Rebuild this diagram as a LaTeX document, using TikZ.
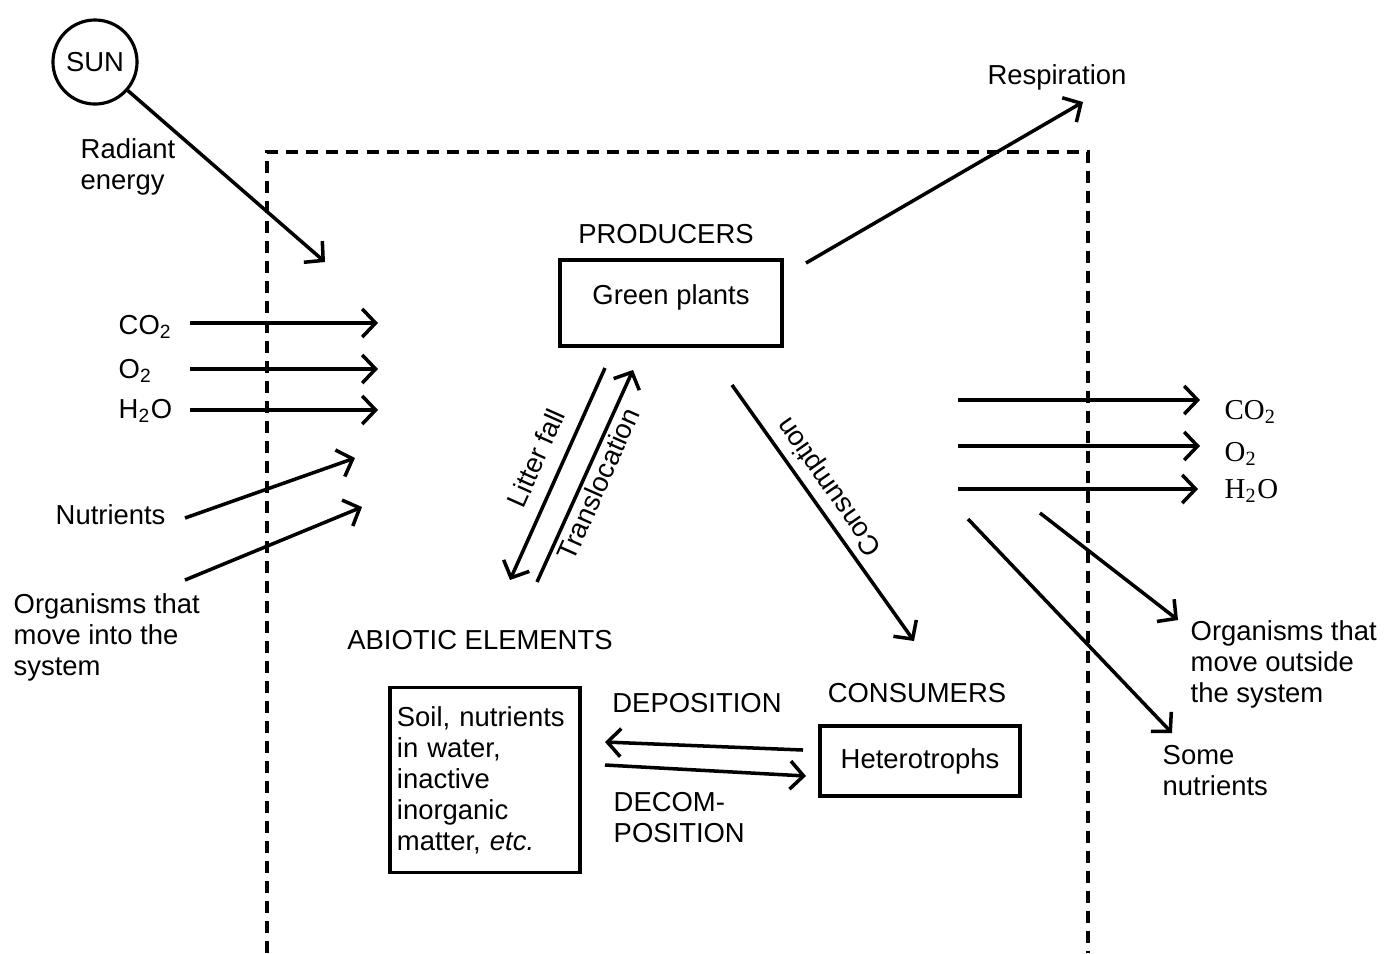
\documentclass[tikz,border=0pt]{standalone}
\usepackage{fontspec}
\setmainfont{Liberation Sans}
\newfontfamily\chemfont{Liberation Serif}
\usetikzlibrary{arrows.meta}
\definecolor{ecoLine}{HTML}{000000}
\tikzset{
  ecofig/.style={
    x=0.01cm, y=-0.01cm,
    every node/.append style={font=\fontsize{7.8}{8.8}\selectfont},
    >={Straight Barb[length=3.8pt,width=8pt]},
  },
  flow/.style={draw=ecoLine, line width=1pt, ->},
  boundary/.style={draw=ecoLine, line width=1pt, dash pattern=on 0.12cm off 0.08cm},
  partbox/.style={draw=ecoLine, line width=1pt, inner sep=2pt},
  caption/.style={inner sep=0pt},
  leftcap/.style={caption, align=left, anchor=west},
  chemcap/.style={caption, anchor=west, font=\chemfont\fontsize{8.2}{9}\selectfont},
}

\begin{document}
\begin{tikzpicture}[ecofig]
  \useasboundingbox (0,0) rectangle (1384,953);
  % system boundary, open at the bottom
  \coordinate (bl) at (267,953);
  \coordinate (tl) at (267,152);
  \coordinate (tr) at (1088,152);
  \coordinate (br) at (1088,953);
  \draw[boundary] (bl) -- (tl) -- (tr) -- (br);

  % sun and inputs
  \node[circle, draw=ecoLine, line width=0.9pt, minimum size=0.84cm, inner sep=0pt] (sun) at (95,62) {SUN};
  \node[leftcap] (radiant) at (80,167) {Radiant\\energy};
  \coordinate (sunin) at (325,262);
  \draw[flow] (sun) -- (sunin);

  \node[caption, anchor=west] (co2in) at (118,327) {CO\textsubscript{2}};
  \node[caption, anchor=west] (o2in) at (118,371) {O\textsubscript{2}};
  \node[caption, anchor=west] (h2oin) at (118,411) {H\textsubscript{2}O};
  \coordinate (co2a) at (190,323);  \coordinate (co2b) at (378,323);
  \coordinate (o2a) at (190,369);   \coordinate (o2b) at (378,369);
  \coordinate (h2oa) at (190,410);  \coordinate (h2ob) at (378,410);
  \draw[flow] (co2a) -- (co2b);
  \draw[flow] (o2a) -- (o2b);
  \draw[flow] (h2oa) -- (h2ob);

  \node[leftcap] (nutin) at (55,515) {Nutrients};
  \coordinate (nuta) at (185,518);  \coordinate (nutb) at (355,458);
  \draw[flow] (nuta) -- (nutb);
  \node[leftcap] (orgin) at (13,637) {Organisms that\\move into the\\system};
  \coordinate (orga) at (185,580);  \coordinate (orgb) at (362,507);
  \draw[flow] (orga) -- (orgb);

  % producers
  \node[caption] (prodlab) at (666,234) {PRODUCERS};
  \node[partbox, minimum width=2.22cm, minimum height=0.86cm, text depth=0.16cm] (plants) at (671,303) {Green plants};
  \node[caption] (resplab) at (1057,77) {Respiration};
  \coordinate (respa) at (806,263);  \coordinate (respb) at (1083,102);
  \draw[flow] (respa) -- (respb);

  % producers <-> abiotic, producers -> consumers
  \coordinate (lfa) at (605,368);  \coordinate (lfb) at (510,580);
  \draw[flow] (lfa) -- (lfb);
  \node[caption, rotate=66] (lflab) at (536,458) {Litter fall};
  \coordinate (tra) at (537,582);  \coordinate (trb) at (633,370);
  \draw[flow] (tra) -- (trb);
  \node[caption, rotate=66] (trlab) at (598,484) {Translocation};
  \coordinate (cna) at (732,385);  \coordinate (cnb) at (914,641);
  \draw[flow] (cna) -- (cnb);
  \node[caption, rotate=125] (cnlab) at (830,486) {Consumption};

  % abiotic elements and consumers
  \node[caption] (abiolab) at (480,640) {ABIOTIC ELEMENTS};
  \node[partbox, minimum width=1.9cm, minimum height=1.85cm, text width=1.76cm, align=left] (soil) at (485,780)
    {Soil, nutrients\\in water,\\inactive\\inorganic\\matter, \textit{etc.}};
  \node[caption] (conslab) at (917,693) {CONSUMERS};
  \node[partbox, minimum width=2.0cm, minimum height=0.70cm] (hetero) at (920,761) {Heterotrophs};
  \node[caption] (deplab) at (697,703) {DEPOSITION};
  \node[leftcap] (declab) at (613,818) {DECOM-\\POSITION};
  \coordinate (depa) at (803,750);  \coordinate (depb) at (605,742);
  \draw[flow] (depa) -- (depb);
  \coordinate (deca) at (605,765);  \coordinate (decb) at (806,776);
  \draw[flow] (deca) -- (decb);

  % outputs
  \coordinate (co2c) at (958,400);  \coordinate (co2d) at (1200,400);
  \coordinate (o2c) at (958,446);   \coordinate (o2d) at (1200,446);
  \coordinate (h2oc) at (958,489);  \coordinate (h2od) at (1198,489);
  \draw[flow] (co2c) -- (co2d);
  \draw[flow] (o2c) -- (o2d);
  \draw[flow] (h2oc) -- (h2od);
  \node[chemcap] (co2out) at (1224,412) {CO\textsubscript{2}};
  \node[chemcap] (o2out) at (1224,454) {O\textsubscript{2}};
  \node[chemcap] (h2oout) at (1224,491) {H\textsubscript{2}O};

  \coordinate (orgc) at (1040,513);  \coordinate (orgd) at (1178,620);
  \draw[flow] (orgc) -- (orgd);
  \node[leftcap] (orgout) at (1190,664) {Organisms that\\move outside\\the system};
  \coordinate (nutc) at (968,519);  \coordinate (nutd) at (1172,733);
  \draw[flow] (nutc) -- (nutd);
  \node[leftcap] (nutout) at (1162,771) {Some\\nutrients};
\end{tikzpicture}
\end{document}
